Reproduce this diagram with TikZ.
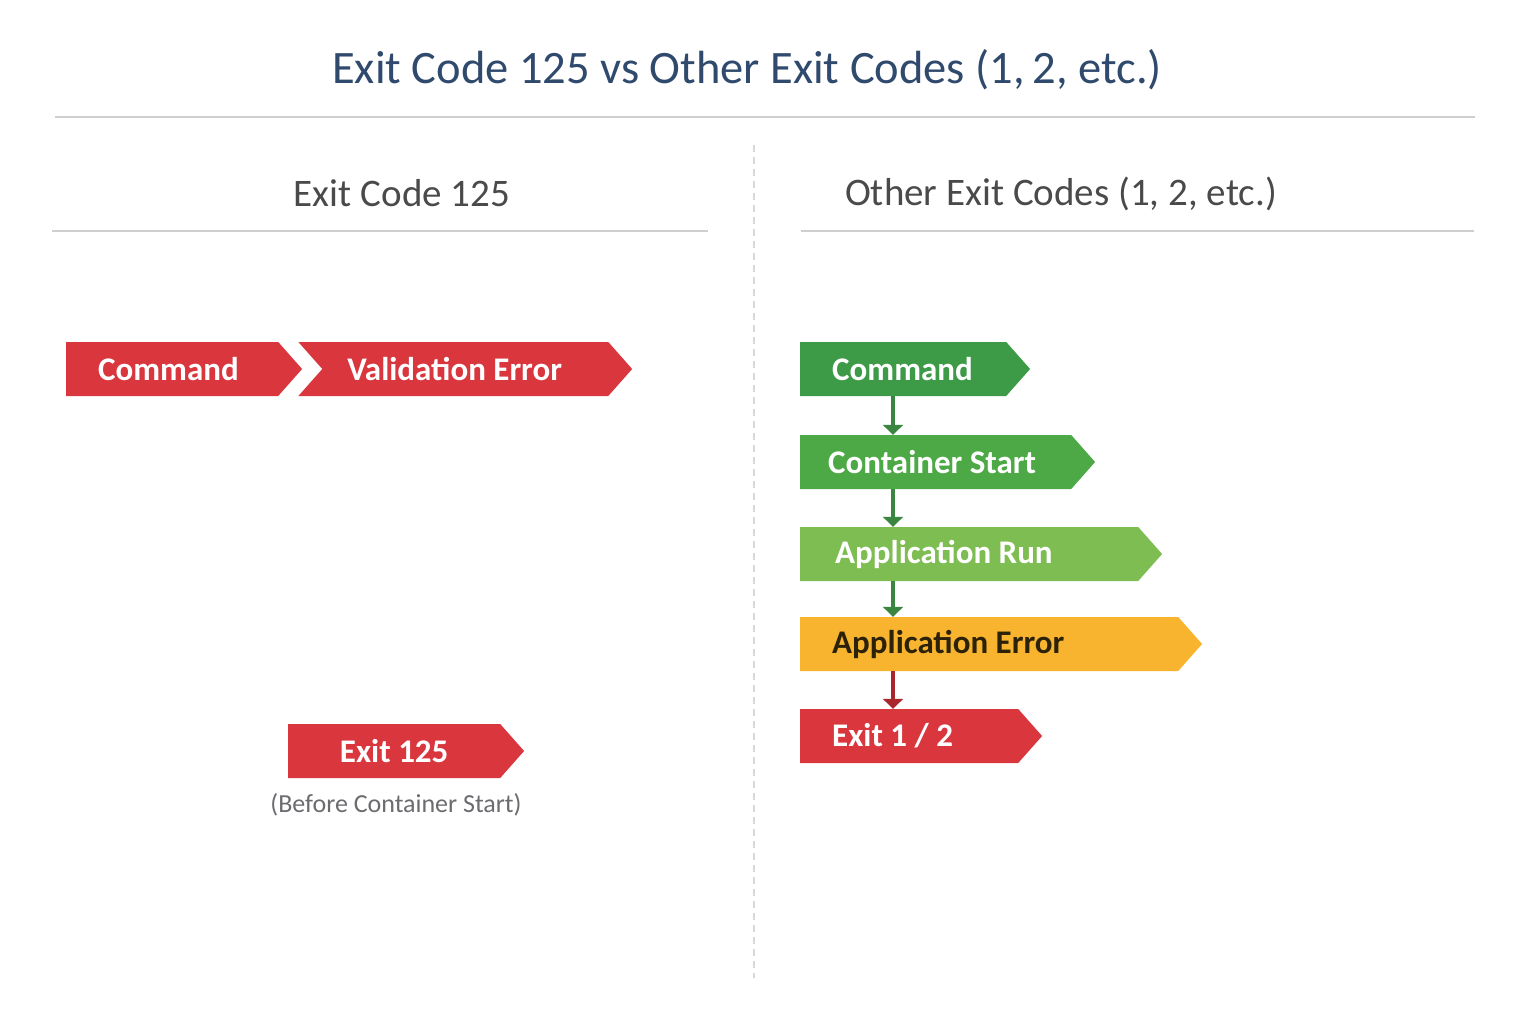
\documentclass[tikz,border=0pt]{standalone}
\usepackage{fontspec}
\setmainfont{Carlito}
\usetikzlibrary{shapes.symbols,arrows.meta,positioning}
\definecolor{titleblue}{HTML}{2F4A6D}
\definecolor{headgray}{HTML}{4A4A4A}
\definecolor{notegray}{HTML}{6B6B70}
\definecolor{rulegray}{HTML}{CFCFCF}
\definecolor{errred}{HTML}{D9363E}
\definecolor{cmdgreen}{HTML}{3D9A47}
\definecolor{startgreen}{HTML}{4DA846}
\definecolor{rungreen}{HTML}{7DBD51}
\definecolor{appyellow}{HTML}{F8B42E}
\definecolor{appdark}{HTML}{2B2208}
\definecolor{linkgreen}{HTML}{3A8540}
\definecolor{linkred}{HTML}{A8262C}
\tikzset{chev/.style = {shape=signal, signal to=east, signal pointer angle=97,
    minimum height=54pt, inner ysep=0pt, inner xsep=32pt, anchor=west,
    text=white, align=flush left, font=\fontsize{33}{33}\selectfont\bfseries}}
\tikzset{rule/.style = {rulegray, line width=2pt}}
\tikzset{head/.style = {headgray, font=\fontsize{39}{39}\selectfont}}
\tikzset{flow/.style = {line width=4pt, -{Triangle[width=20pt,length=10pt]}}}

\begin{document}
\begin{tikzpicture}[x=1pt,y=-1pt]
                \fill[white] (0,0) rectangle (1536,1024);
                \useasboundingbox (0,0) rectangle (1536,1024);

                % title and rules
                \node[titleblue, font=\fontsize{46.5}{46.5}\selectfont] (title) at (747,70) {Exit Code 125 vs Other Exit Codes (1,\,2, etc.)};
                \draw[rule] (55,117) -- (1475,117);
                \draw[rulegray!80, line width=2pt, dash pattern=on 7pt off 5pt] (754,145) -- (754,978);

                \node[head] (headL) at (402,193) {Exit Code 125};
                \node[head] (headR) at (1061,194) {Other Exit Codes (1, 2, etc.)};
                \draw[rule] (52,231) -- (708,231);
                \draw[rule] (801,231) -- (1474,231);

                % exit code 125
                \node[chev, fill=errred, text width=148pt] (cmdL) at (66,369) {Command};
                \node[chev, fill=errred, signal from=west, text width=236pt, inner xsep=25pt] (valL) at (322,369) {Validation Error};
                \node[chev, fill=errred, text width=148pt, align=flush center] (exitL) at (288,751) {Exit 125};
                \node[notegray, font=\fontsize{26}{26}\selectfont] (noteL) at (396,805) {(Before Container Start)};

                % other exit codes
                \coordinate (axis) at (893,0);
                \node[chev, fill=cmdgreen, text width=142pt] (cmdR) at (800,369) {Command};
                \node[chev, fill=startgreen, text width=215pt, inner xsep=28pt] (startR) at (800,462) {Container Start};
                \node[chev, fill=rungreen, text width=268pt, inner xsep=35pt] (runR) at (800,554) {Application Run};
                \node[chev, fill=appyellow, text=appdark, text width=314pt] (errR) at (800,644) {Application Error};
                \node[chev, fill=errred, text width=154pt] (exitR) at (800,736) {Exit 1 / 2};

                \draw[flow, linkgreen] (cmdR.south -| axis) -- (startR.north -| axis);
                \draw[flow, linkgreen] (startR.south -| axis) -- (runR.north -| axis);
                \draw[flow, linkgreen] (runR.south -| axis) -- (errR.north -| axis);
                \draw[flow, linkred] (errR.south -| axis) -- (exitR.north -| axis);
            \end{tikzpicture}
\end{document}
